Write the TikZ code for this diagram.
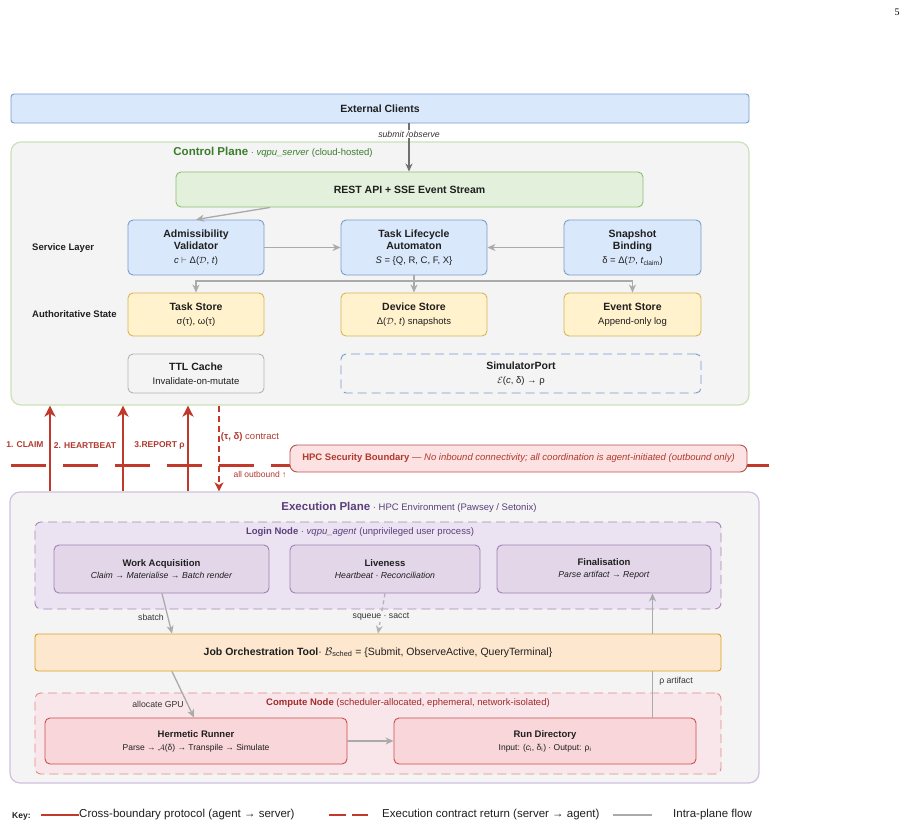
\documentclass[tikz,border=0pt]{standalone}
\usepackage{fontspec}
\setmainfont{Liberation Sans}
\newfontfamily\pagefont{Liberation Serif}
\usepackage{tikz}
\usetikzlibrary{arrows.meta}
\usetikzlibrary{backgrounds}

\definecolor{txtc}{HTML}{1F1F1F}
\definecolor{lblc}{HTML}{333333}
\definecolor{svcfill}{HTML}{DAE8FC}
\definecolor{svcline}{HTML}{7A9CCB}
\definecolor{storefill}{HTML}{FFF2CC}
\definecolor{storeline}{HTML}{D6B656}
\definecolor{restfill}{HTML}{E3F1DC}
\definecolor{restline}{HTML}{8CBF6E}
\definecolor{planefill}{HTML}{F4F4F4}
\definecolor{cpline}{HTML}{C9E2B8}
\definecolor{cptext}{HTML}{3A7D2C}
\definecolor{epline}{HTML}{CFC0DF}
\definecolor{eptext}{HTML}{5B3F7C}
\definecolor{lnfill}{HTML}{ECE3F2}
\definecolor{lnline}{HTML}{A887B8}
\definecolor{agfill}{HTML}{E2D6E8}
\definecolor{agline}{HTML}{A07FB3}
\definecolor{jotfill}{HTML}{FDE7CF}
\definecolor{jotline}{HTML}{DBA21A}
\definecolor{cnfill}{HTML}{F9E6EA}
\definecolor{cnline}{HTML}{E58A87}
\definecolor{cntext}{HTML}{A12A2A}
\definecolor{rdfill}{HTML}{F8D6DA}
\definecolor{rdline}{HTML}{CC4E49}
\definecolor{hpcfill}{HTML}{FCE2E2}
\definecolor{hpcline}{HTML}{B5534E}
\definecolor{redarr}{HTML}{C0392B}
\definecolor{redtxt}{HTML}{B03A2E}
\definecolor{cachegray}{HTML}{B3B3B3}
\definecolor{flowgray}{HTML}{AAAAAA}
\definecolor{darkgray}{HTML}{707070}

\newcommand{\boxhead}[1]{{\fontsize{10.5}{12.5}\selectfont\bfseries #1}}
\newcommand{\agenthead}[1]{{\fontsize{9.5}{12}\selectfont\bfseries #1}}
\newcommand{\planehead}[1]{{\fontsize{11.5}{13}\selectfont\bfseries #1}}

\tikzset{l/.style={font=\fontsize{8.7}{10}\selectfont, text=lblc}}
\tikzset{m/.style={font=\fontsize{9.5}{12.5}\selectfont}}
\tikzset{box/.style={draw, rounded corners=5pt, line width=0.9pt, align=center, inner sep=0pt, m, text=txtc}}
\tikzset{svc/.style={box, fill=svcfill, draw=svcline, minimum width=136, minimum height=55}}
\tikzset{store/.style={box, fill=storefill, draw=storeline, minimum width=136, minimum height=43}}
\tikzset{agent/.style={box, fill=agfill, draw=agline, minimum width=215, minimum height=48, font=\fontsize{8.7}{12}\selectfont}}
\tikzset{run/.style={box, fill=rdfill, draw=rdline, minimum width=302, minimum height=46, font=\fontsize{8.5}{13}\selectfont}}
\tikzset{plane/.style={draw, fill=planefill, rounded corners=10pt, line width=1.2pt, minimum width=738}}
\tikzset{grp/.style={draw, dashed, dash pattern=on 9pt off 5pt, rounded corners=6pt, line width=0.9pt}}
\tikzset{hpc/.style={box, fill=hpcfill, draw=hpcline, rounded corners=7pt, text=redtxt, minimum width=457, minimum height=27}}
\tikzset{rowlbl/.style={font=\fontsize{9.5}{11}\selectfont\bfseries, text=txtc, anchor=west, inner sep=0pt}}
\tikzset{redlbl/.style={font=\fontsize{8.5}{10}\selectfont\bfseries, text=redtxt}}
\tikzset{flow/.style={draw=flowgray, line width=1.3pt, -{Stealth[length=8pt,width=7pt,inset=2.5pt]}}}
\tikzset{claim/.style={draw=redarr, line width=2.6pt, -{Stealth[length=11pt,width=11pt,inset=3pt]}}}
\tikzset{contract/.style={draw=redarr, line width=1.6pt, dash pattern=on 6pt off 4pt, -{Stealth[length=9pt,width=9pt,inset=2.5pt]}}}
\tikzset{boundary/.style={draw=redarr, line width=2.3pt, dash pattern=on 35pt off 17pt}}
\tikzset{keytxt/.style={font=\fontsize{11.5}{13}\selectfont, text=txtc, anchor=west, inner sep=0pt}}

\begin{document}
\begin{tikzpicture}[x=1pt,y=-1pt]
\useasboundingbox (0,0) rectangle (908,828);

\node[font=\pagefont\fontsize{10}{12}\selectfont] (PG) at (897,12) {5};

% clients and control plane
\node[box, fill=svcfill, draw=svcline, rounded corners=3pt, minimum width=738, minimum height=29] (EC) at (380,108.5) {\boxhead{External Clients}};
\node[plane, draw=cpline, minimum height=263] (CP) at (380,273.5) {};
\node[m, text=cptext] (CPT) at (273,152) {\planehead{Control Plane} · \textit{vqpu\_server} (cloud-hosted)};

\node[box, fill=restfill, draw=restline, minimum width=467, minimum height=35] (REST) at (409.5,189.5) {\boxhead{REST API + SSE Event Stream}};

\node[svc] (AV) at (196,247.5) {\boxhead{Admissibility}\\\boxhead{Validator}\\[1pt]\textit{c} $\vdash$ Δ($\mathcal{D}$, \textit{t})};
\node[svc, minimum width=146] (TLA) at (414,247.5) {\boxhead{Task Lifecycle}\\\boxhead{Automaton}\\[1pt]\textit{S} = \{Q, R, C, F, X\}};
\node[svc, minimum width=137] (SB) at (632.5,247.5) {\boxhead{Snapshot}\\\boxhead{Binding}\\[1pt]δ = Δ($\mathcal{D}$, \textit{t}\textsubscript{claim})};

\node[store] (TS) at (196,314.5) {\boxhead{Task Store}\\[1.5pt]σ(τ), ω(τ)};
\node[store, minimum width=146] (DS) at (414,314.5) {\boxhead{Device Store}\\[1.5pt]Δ($\mathcal{D}$, \textit{t}) snapshots};
\node[store, minimum width=137] (ES) at (632.5,314.5) {\boxhead{Event Store}\\[1.5pt]Append-only log};

\node[box, fill=planefill, draw=cachegray, minimum width=136, minimum height=39] (TTL) at (196,373.5) {\boxhead{TTL Cache}\\[1.5pt]Invalidate-on-mutate};
\node[box, draw=svcline, dash pattern=on 9pt off 5pt, minimum width=360, minimum height=39] (SP) at (521,373.5) {\boxhead{SimulatorPort}\\[1.5pt]$\mathcal{E}$(\textit{c}, δ) → ρ};

\node[rowlbl] (SL) at (32,248) {Service Layer};
\node[rowlbl] (AS) at (32,314) {Authoritative State};

\draw[flow, draw=darkgray] (EC.south -| 409,0) -- (REST.north -| 409,0);
\node[l, fill=white, inner sep=1pt] (SO) at (409,134) {\textit{submit /observe}};
\draw[flow] (REST.south -| 270,0) -- (AV.north);
\draw[flow] (AV) -- (TLA);
\draw[flow] (SB) -- (TLA);
\draw[flow] (TLA.south) -- (DS.north);
\coordinate (J) at (414,281);
\draw[flow] (J) -| (TS.north);
\draw[flow] (J) -| (ES.north);

% execution plane
\node[plane, draw=epline, minimum width=749, minimum height=291] (EP) at (384.5,637.5) {};
\node[m, text=eptext] (EPT) at (409,507) {\planehead{Execution Plane} · HPC Environment (Pawsey / Setonix)};

% security boundary
\draw[boundary] (11,465.5) -- (769,465.5);
\node[hpc] (HPC) at (518.5,458.5) {\textbf{HPC Security Boundary} \textit{— No inbound connectivity; all coordination is agent-initiated (outbound only)}};

\draw[claim] (EP.north -| 50,0) -- (CP.south -| 50,0);
\draw[claim] (EP.north -| 123,0) -- (CP.south -| 123,0);
\draw[claim] (EP.north -| 188,0) -- (CP.south -| 188,0);
\draw[contract] (CP.south -| 219,0) -- (EP.north -| 219,0);

\node[redlbl] (C1) at (25,445) {1. CLAIM};
\node[redlbl] (C2) at (85,446) {2. HEARTBEAT};
\node[redlbl] (C3) at (159.5,445) {3.REPORT ρ};
\node[m, text=redtxt] (CT) at (250,437) {\textbf{(τ, δ)} contract};
\node[l, text=redtxt, font=\fontsize{8.5}{10}\selectfont] (AO) at (260,475) {all outbound ↑};

% login node
\node[grp, fill=lnfill, draw=lnline, minimum width=686, minimum height=87] (LN) at (378,565.5) {};
\node[m, text=eptext] (LNT) at (360,532) {\textbf{Login Node} · \textit{vqpu\_agent} (unprivileged user process)};
\node[agent] (WA) at (161.5,569) {\agenthead{Work Acquisition}\\\textit{Claim → Materialise → Batch render}};
\node[agent, minimum width=190] (LV) at (385,569) {\agenthead{Liveness}\\\textit{Heartbeat · Reconciliation}};
\node[agent, minimum width=214] (FN) at (604,569) {\agenthead{Finalisation}\\\textit{Parse artifact → Report}};

% compute node
\node[grp, fill=cnfill, draw=cnline, minimum width=686, minimum height=81] (CN) at (378,733.5) {};
\node[m, text=cntext] (CNT) at (408,703) {\textbf{Compute Node} (scheduler-allocated, ephemeral, network-isolated)};
\node[run] (HR) at (196,741) {\agenthead{Hermetic Runner}\\Parse → $\mathcal{A}$(δ) → Transpile → Simulate};
\node[run] (RD) at (545,741) {\agenthead{Run Directory}\\Input: (\textit{c}\textsubscript{i}, δ\textsubscript{i}) · Output: ρ\textsubscript{i}};

\draw[flow] (RD.north -| 652.5,0) -- (FN.south -| 652.5,0);
\node[l] (RA) at (676,681) {ρ artifact};

\node[box, fill=jotfill, draw=jotline, rounded corners=3pt, minimum width=686, minimum height=37, font=\fontsize{10.5}{12.5}\selectfont] (JOT) at (378,652.5) {\textbf{Job Orchestration Tool}· $\mathcal{B}$\textsubscript{sched} = \{Submit, ObserveActive, QueryTerminal\}};

\draw[flow] (WA.south -| 162,0) -- (JOT.north -| 172,0);
\node[l] (SBT) at (151,617) {sbatch};
\draw[flow, draw=cachegray, dash pattern=on 4pt off 3pt] (LV.south -| 385,0) -- (JOT.north -| 378,0);
\node[l, fill=planefill, inner sep=1pt] (SQ) at (381,617) {squeue · sacct};
\draw[flow] (JOT.south -| 172,0) -- (HR.north -| 194,0);
\node[l] (AG) at (158,704) {allocate GPU};
\draw[flow] (HR) -- (RD);

% key
\node[font=\fontsize{8.5}{10}\selectfont\bfseries, text=txtc, anchor=west, inner sep=0pt] (KEY) at (12,816) {Key:};
\draw[draw=redarr, line width=2pt] (41,815) -- (79,815);
\node[keytxt] (K1) at (79,815) {Cross-boundary protocol (agent → server)};
\draw[draw=redarr, line width=2pt, dash pattern=on 17pt off 6pt] (329,815) -- (368,815);
\node[keytxt] (K2) at (382,815) {Execution contract return (server → agent)};
\draw[draw=flowgray, line width=1.3pt] (613,815) -- (652,815);
\node[keytxt] (K3) at (673,815) {Intra-plane flow};
\end{tikzpicture}
\end{document}
